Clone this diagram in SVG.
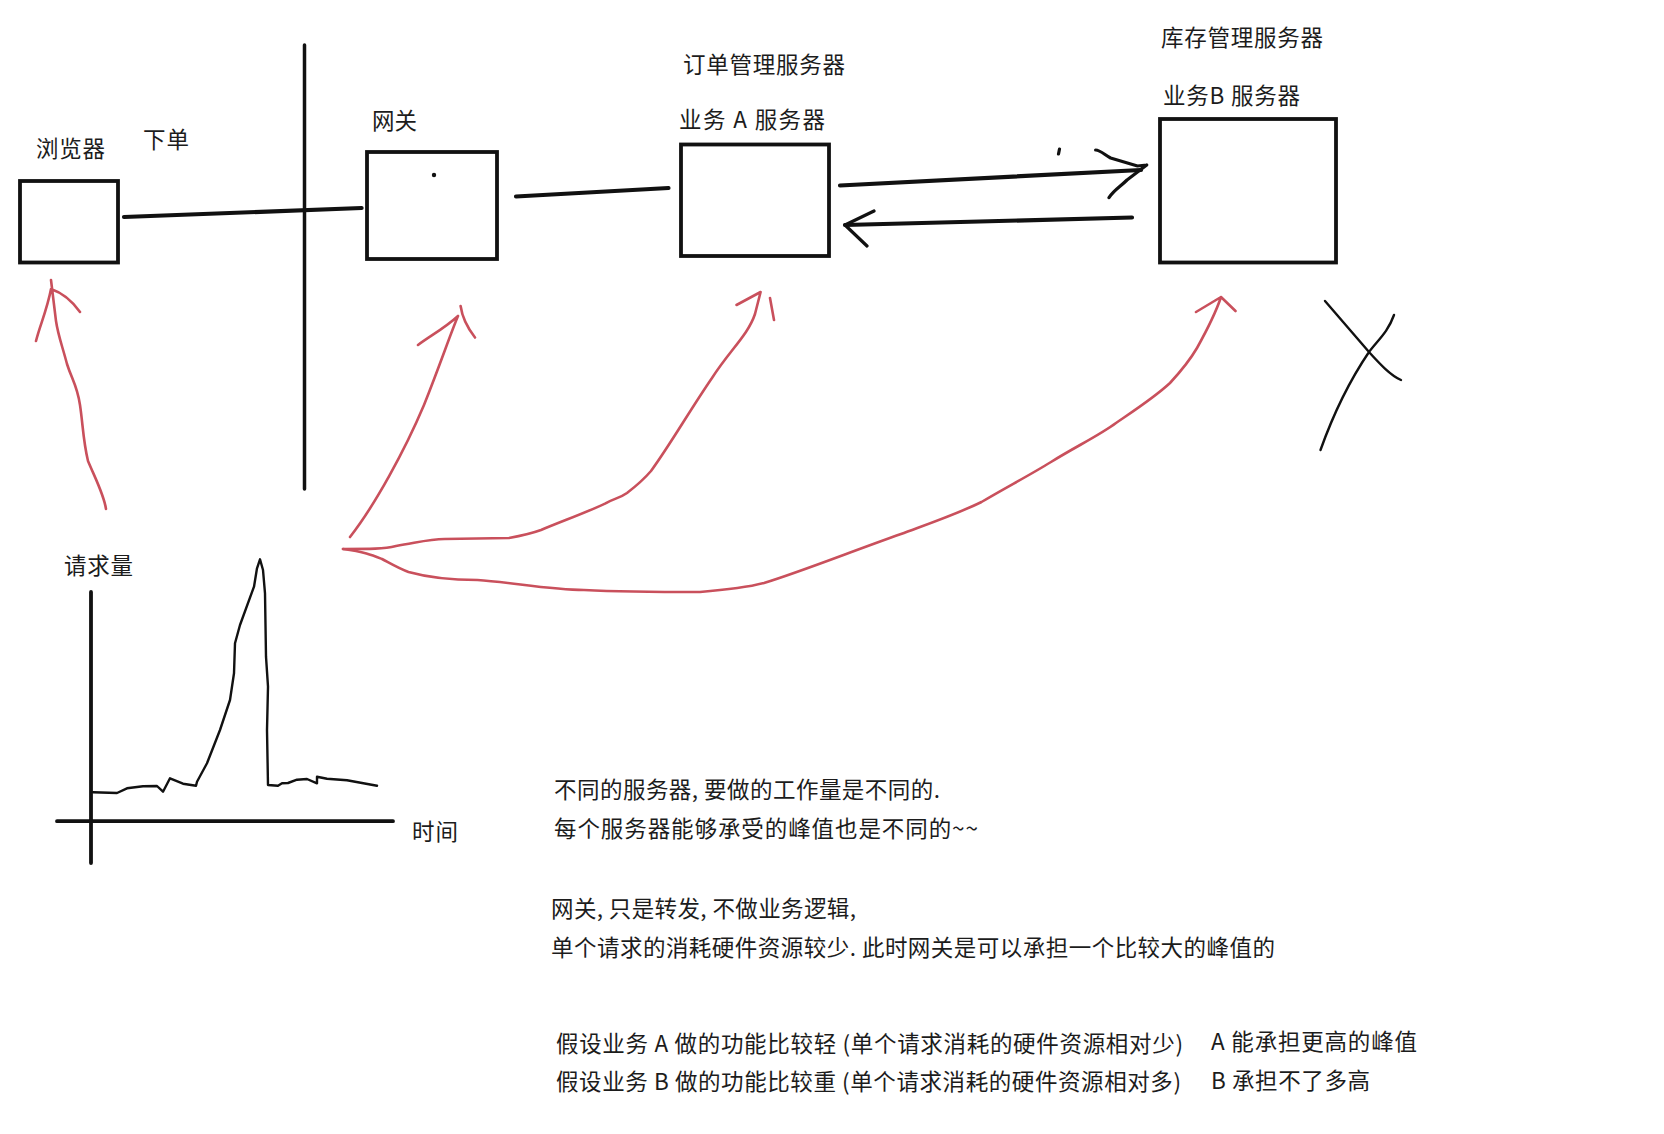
<svg xmlns="http://www.w3.org/2000/svg" width="1664" height="1134" viewBox="0 0 1664 1134">
<style>
text{font-family:"Noto Sans CJK SC","Liberation Sans",sans-serif;font-size:22.5px;fill:#1c1c1c}
.box{fill:#fff;stroke:#111;stroke-width:3.8}
.k,.r{fill:none;stroke-linecap:round;stroke-linejoin:round}
.k{stroke:#111}
.r{stroke:#c9505c;stroke-width:2.6}
.w4{stroke-width:4.200}.w3{stroke-width:3.200}.w2{stroke-width:2.400}
</style>
<rect width="1664" height="1134" fill="#fff"/>
<g id="browser"><rect class="box" x="20" y="181" width="98" height="81.500"/><text x="36" y="157" textLength="69">浏览器</text></g>
<g id="gateway"><rect class="box" x="367" y="152" width="130" height="107"/><text x="372" y="129" textLength="45">网关</text><circle cx="434" cy="175" r="2.200" fill="#111"/></g>
<g id="server-a"><rect class="box" x="681" y="144.500" width="148" height="111.500"/><text x="683" y="73" textLength="162">订单管理服务器</text><text x="679" y="128" textLength="146">业务 A 服务器</text></g>
<g id="server-b"><rect class="box" x="1160" y="119" width="176" height="143.500"/><text x="1161" y="46" textLength="162">库存管理服务器</text><text x="1163" y="104" textLength="137">业务B 服务器</text></g>
<g id="order-label"><text x="143" y="148" textLength="46">下单</text></g>
<g id="divider"><path class="k" stroke-width="3.500" d="M304.500 45V489"/></g>
<g id="chart">
<path class="k" stroke-width="3.800" d="M91 592V863M57 821.200H393"/>
<path class="k w2" d="M93 792.300L117 793L127 788.300L143 786.300L157 786L163 791.700L170 778.300L183 783.700L196 785.700L197 781.700L207 763.300L220 730L230 700L234 673.300L235 643.300L240 625L254 586.700L257 568.300L260 559.300L263 570L265 593.300L266 656.700L268 686.700L267 730L268 785L278 785.700L282 783.300L288 783L297 779.700L307 779L317 783.300L317 776.700L327 778.700L347 780.300L377 785.700"/>
<text x="64" y="574" textLength="69">请求量</text><text x="412" y="840" textLength="46">时间</text>
</g>
<g id="connectors">
<path class="k w4" d="M124 217L361.600 208M516 196.500L668.500 188M840 185.500L1141 170M1132 217.500L845 225"/>
<path class="k w3" d="M1095.600 150C1100 150 1105 155 1110.600 158L1137.500 166L1146.700 165M1146.700 165L1127 180C1120 187 1114 190 1109 197.600M1059.500 149L1058.500 154M874 211L845 225L867 246"/>
<path class="r" d="M106 509C104 495 96 480 88 461C83 440 83 425 80 405C77 385 72 380 67 364C62 345 58 335 56 321L51 280M36 341C40 325 47 310 51 289C60 292 70 298 80 312"/>
<path class="r" d="M350 537C375 505 405 450 424 405C440 365 450 335 458 316M418 345C430 336 445 328 458 316M460.600 306C462 316 466 326 475 337.500"/>
<path class="r" d="M343 549C370 549 384 549 396 546C420 542 430 539 444.500 539L509 538C520 536 530 534 541 530C565 520 585 513 605 503.600C615 498 620 498 627 493C640 483 645 478 651 471C670 445 690 410 712 378C730 350 748 335 755 314L760.600 292M736.500 305L760.600 292M770 298L774 320"/>
<path class="r" d="M343 549C365 552 372 555 382 559C395 566 400 569 408.500 572C430 578 455 580 477.500 580C510 582 550 590 584 590C625 592 665 592 700 592C725 590 745 588 764 583C800 572 850 552 901 534C925 525 955 515 981.500 502C1005 488 1030 475 1051 462C1075 447 1100 435 1116 423C1135 410 1155 397 1170 383C1182 370 1190 360 1197 348C1207 330 1215 315 1221 297M1196 312L1221 297L1235.500 311"/>
<path class="k w2" d="M1325 301L1369 352C1380 364 1390 375 1401 380M1394 315C1388 332 1378 340 1369 352C1350 380 1333 415 1320.500 450"/>
</g>
<g id="notes">
<text x="554" y="798" textLength="386">不同的服务器, 要做的工作量是不同的.</text>
<text x="554" y="837" textLength="424">每个服务器能够承受的峰值也是不同的~~</text>
<text x="551" y="917" textLength="305">网关, 只是转发, 不做业务逻辑,</text>
<text x="551" y="956" textLength="724">单个请求的消耗硬件资源较少. 此时网关是可以承担一个比较大的峰值的</text>
<text x="556" y="1052" textLength="627">假设业务 A 做的功能比较轻 (单个请求消耗的硬件资源相对少)</text>
<text x="1211" y="1050" textLength="206">A 能承担更高的峰值</text>
<text x="556" y="1090" textLength="625">假设业务 B 做的功能比较重 (单个请求消耗的硬件资源相对多)</text>
<text x="1211" y="1089" textLength="159">B 承担不了多高</text>
</g>
</svg>
